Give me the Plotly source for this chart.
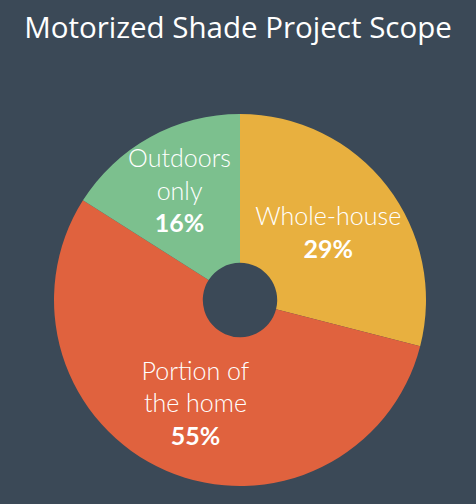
import plotly.graph_objects as go

scopes = ["Whole-house", "Portion of the home", "Outdoors only"]
shares = [29, 55, 16]
slice_text = ["Whole-house", "Portion of<br>the home", "Outdoors<br>only"]
colores = ["#e8b03f", "#e0623e", "#7cc08e"]

fig = go.Figure()

fig.add_trace(go.Pie(
    labels=scopes,
    values=shares,
    text=slice_text,
    texttemplate="%{text}<br><b>%{percent:.0%}</b>",
    textinfo="text",
    textposition="inside",
    insidetextorientation="horizontal",
    textfont=dict(family="Lato", size=25, color="white", weight=300),
    hole=0.2,
    sort=False,
    direction="clockwise",
    rotation=0,
    marker=dict(colors=colores, line=dict(width=0)),
    showlegend=False,
    hoverinfo="label+percent",
))

fig.update_layout(
    title=dict(text="Motorized Shade Project Scope",
               x=0.5, xanchor="center", y=0.945, yanchor="middle",
               font=dict(family="Open Sans", size=29.5, color="white", weight=500)),
    uniformtext=dict(mode="show", minsize=25),
    width=476,
    height=504,
    margin=dict(l=54, r=50, t=114, b=18),
    paper_bgcolor="#3b4957",
    plot_bgcolor="#3b4957",
)

# no white page border around the chart
fig.write_html("out.html", config={"displayModeBar": False},
               post_script="document.body.style.margin='0';")
